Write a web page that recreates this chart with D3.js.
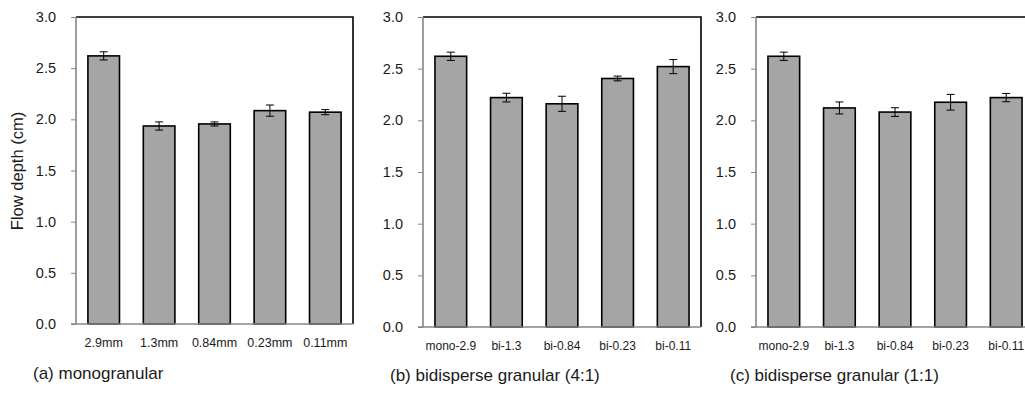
<!DOCTYPE html>
<html>
<head>
<meta charset="utf-8">
<script src="https://cdn.jsdelivr.net/npm/d3@7"></script>
<style>
  body { margin: 0; background: #fff; }
  svg { display: block; font-family: Arial, "Liberation Sans", sans-serif; }
</style>
</head>
<body>
<svg id="chart" width="1025" height="394"></svg>
<script>
// Data
const monoLabels = ["2.9mm", "1.3mm", "0.84mm", "0.23mm", "0.11mm"];
const biLabels = ["mono-2.9", "bi-1.3", "bi-0.84", "bi-0.23", "bi-0.11"];
const monoDepth = [2.62, 1.935, 1.955, 2.085, 2.07];
const monoErr = [0.04, 0.04, 0.02, 0.055, 0.025];
const bi41Depth = [2.62, 2.22, 2.16, 2.405, 2.52];
const bi41Err = [0.04, 0.042, 0.073, 0.023, 0.068];
const bi11Depth = [2.62, 2.12, 2.08, 2.175, 2.22];
const bi11Err = [0.04, 0.058, 0.042, 0.076, 0.04];
const yTicks = [0, 0.5, 1.0, 1.5, 2.0, 2.5, 3.0];
const captions = ["(a) monogranular", "(b) bidisperse granular (4:1)", "(c) bidisperse granular (1:1)"];

const panels = [
  {labels: monoLabels, values: monoDepth, errs: monoErr, caption: captions[0],
   left: 76, right: 353, top: 17, bottom: 324, labelSize: 12.5, capX: 33, capY: 379},
  {labels: biLabels, values: bi41Depth, errs: bi41Err, caption: captions[1],
   left: 423, right: 701, top: 17, bottom: 327, labelSize: 12, capX: 390, capY: 381},
  {labels: biLabels, values: bi11Depth, errs: bi11Err, caption: captions[2],
   left: 756, right: 1034, top: 17, bottom: 327, labelSize: 12, capX: 730, capY: 381}
];

const svg = d3.select("#chart");

panels.forEach((p, pi) => {
  const g = svg.append("g");

  const x = d3.scaleBand()
    .domain(p.labels)
    .range([p.left, p.right])
    .paddingInner(0.43)
    .paddingOuter(0.215);

  const y = d3.scaleLinear()
    .domain([0, 3])
    .range([p.bottom, p.top]);

  // frame: top and right in black
  g.append("path")
    .attr("d", `M${p.left},${p.top}H${p.right}V${p.bottom}`)
    .attr("fill", "none")
    .attr("stroke", "#000")
    .attr("stroke-width", 1.6);

  // bars
  const rows = p.labels.map((l, i) => ({label: l, value: p.values[i], err: p.errs[i]}));

  g.selectAll("rect.bar")
    .data(rows)
    .enter()
    .append("rect")
    .attr("class", "bar")
    .attr("x", d => x(d.label))
    .attr("y", d => y(d.value))
    .attr("width", x.bandwidth())
    .attr("height", d => y(0) - y(d.value))
    .attr("fill", "#a5a5a5")
    .attr("stroke", "#000")
    .attr("stroke-width", 1.6);

  // error bars
  const cap = 4;
  const eb = g.selectAll("g.err")
    .data(rows)
    .enter()
    .append("g")
    .attr("class", "err")
    .attr("stroke", "#000")
    .attr("stroke-width", 1);
  const cx = d => x(d.label) + x.bandwidth() / 2;
  eb.append("line")
    .attr("x1", cx).attr("x2", cx)
    .attr("y1", d => y(d.value + d.err)).attr("y2", d => y(d.value - d.err));
  eb.append("line")
    .attr("x1", d => cx(d) - cap).attr("x2", d => cx(d) + cap)
    .attr("y1", d => y(d.value + d.err)).attr("y2", d => y(d.value + d.err));
  eb.append("line")
    .attr("x1", d => cx(d) - cap).attr("x2", d => cx(d) + cap)
    .attr("y1", d => y(d.value - d.err)).attr("y2", d => y(d.value - d.err));

  // y axis
  const yAxis = g.append("g")
    .attr("transform", `translate(${p.left},0)`)
    .call(d3.axisLeft(y).tickValues(yTicks).tickFormat(d3.format(".1f")).tickSize(5).tickPadding(15));
  yAxis.select(".domain").attr("stroke", "#868686").attr("stroke-width", 1.6).attr("d", `M0,${p.top}V${p.bottom}`);
  yAxis.selectAll(".tick line").attr("stroke", "#868686");
  yAxis.selectAll(".tick text")
    .attr("fill", "#1a1a1a")
    .style("font-size", "14.5px");

  // x axis
  const xAxis = g.append("g")
    .attr("transform", `translate(0,${p.bottom})`)
    .call(d3.axisBottom(x).tickSize(0).tickPadding(14));
  xAxis.select(".domain").attr("stroke", "#868686").attr("stroke-width", 1.6).attr("d", `M${p.left - 5},0H${p.right}`);
  xAxis.selectAll(".tick text")
    .attr("fill", "#1a1a1a")
    .style("font-size", p.labelSize + "px");

  // caption
  g.append("text")
    .attr("x", p.capX)
    .attr("y", p.capY)
    .attr("fill", "#1a1a1a")
    .style("font-size", "17px")
    .text(p.caption);
});

// y axis title
svg.append("text")
  .attr("transform", "translate(23,171) rotate(-90)")
  .attr("text-anchor", "middle")
  .attr("fill", "#1a1a1a")
  .style("font-size", "16.5px")
  .text("Flow depth (cm)");
</script>
</body>
</html>
